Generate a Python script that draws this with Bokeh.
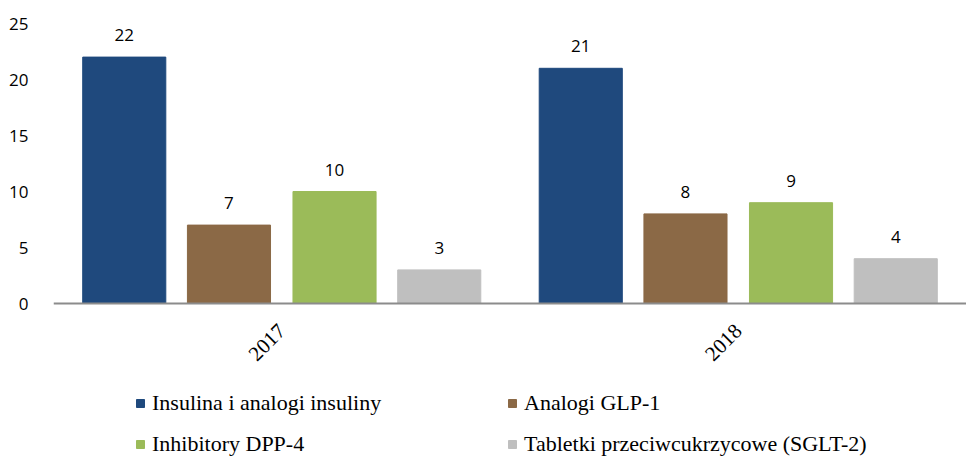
from bokeh.plotting import figure
from bokeh.models import ColumnDataSource, Range1d, FactorRange, FixedTicker, Legend, LegendItem
from bokeh.transform import dodge
from bokeh.core.properties import value
from bokeh.embed import file_html
from bokeh.resources import INLINE

years = ["2017", "2018"]
series_names = ["Insulina i analogi insuliny", "Analogi GLP-1",
                "Inhibitory DPP-4", "Tabletki przeciwcukrzycowe (SGLT-2)"]
insulina = [22, 21]
glp1 = [7, 8]
dpp4 = [10, 9]
sglt2 = [3, 4]
y_ticks = [0, 5, 10, 15, 20, 25]
colors = ["#1F497D", "#8B6946", "#9BBB59", "#BFBFBF"]
offsets = [-0.345, -0.1156, 0.1156, 0.345]

# frame extends below the zero line so the legend fits inside it
p = figure(width=966, height=457, output_backend="svg",
           toolbar_location=None,
           x_range=FactorRange(*years), y_range=Range1d(-13.75, 25),
           min_border_left=53, min_border_top=23, min_border_right=0,
           min_border_bottom=0)
p.outline_line_color = None
p.xgrid.grid_line_color = None
p.ygrid.grid_line_color = None

items = []
for name, vals, col, off in zip(series_names, [insulina, glp1, dpp4, sglt2], colors, offsets):
    src = ColumnDataSource(dict(year=years, v=vals, lbl=[str(v) for v in vals]))
    r = p.vbar(x=dodge("year", off, range=p.x_range), top="v", width=0.182, source=src,
               fill_color=col, line_color=col)
    p.text(x=dodge("year", off, range=p.x_range), y="v", text="lbl", source=src,
           text_align="center", text_baseline="bottom", y_offset=-16,
           text_font=value("Open Sans"), text_font_size="17px", text_color="#000000")
    items.append(LegendItem(label=name, renderers=[r]))

p.xaxis.fixed_location = 0
p.xaxis.major_label_orientation = 0.785
p.xaxis.major_label_text_font = "Liberation Serif"
p.xaxis.major_label_text_font_size = "21px"
p.xaxis.major_label_text_color = "#000000"
p.xaxis.major_tick_line_color = None
p.xaxis.minor_tick_line_color = None
p.xaxis.axis_line_color = "#8C8C8C"
p.xaxis.axis_line_width = 2
p.xaxis.major_label_standoff = 18

p.yaxis.ticker = FixedTicker(ticks=y_ticks)
p.yaxis.axis_line_color = None
p.yaxis.major_tick_line_color = None
p.yaxis.minor_tick_line_color = None
p.yaxis.major_label_standoff = 19
p.yaxis.major_label_text_font = "Open Sans"
p.yaxis.major_label_text_font_size = "17px"
p.yaxis.major_label_text_color = "#000000"

legend = Legend(items=items, ncols=2, orientation="horizontal", location=(82, 0),
                glyph_width=10, glyph_height=10, label_standoff=7, label_width=340,
                spacing=15, label_height=18, padding=0, margin=0,
                border_line_color=None, background_fill_alpha=0,
                label_text_font="Liberation Serif", label_text_font_size="22px",
                label_text_color="#000000")
p.add_layout(legend, "center")

open("out.html", "w").write(file_html(p, INLINE))
